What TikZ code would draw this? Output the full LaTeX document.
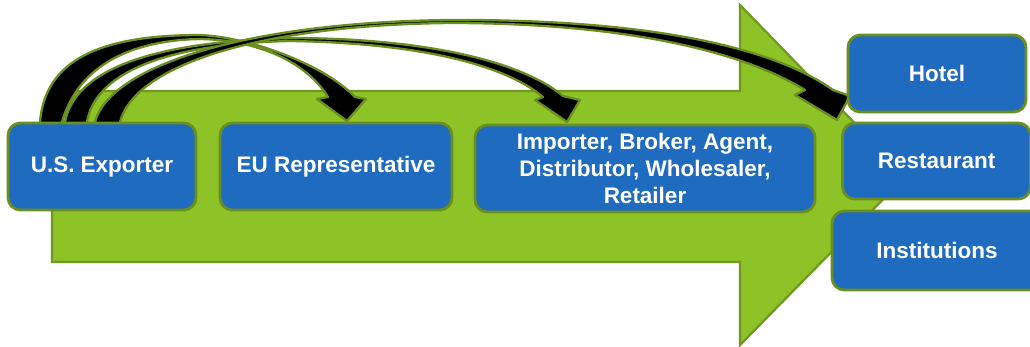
\documentclass[tikz,border=0pt]{standalone}
\usepackage{fontspec}
\setmainfont{Liberation Sans}
\usetikzlibrary{calc, backgrounds}
\definecolor{arrowgreen}{RGB}{141,195,38}
\definecolor{edgegreen}{RGB}{106,142,32}
\definecolor{boxblue}{RGB}{31,107,191}

\tikzset{
  stage/.style={draw=edgegreen, line width=1.6pt, fill=boxblue, rounded corners=7pt,
    text=white, font=\bfseries\fontsize{12.8}{15.4}\selectfont, align=center,
    inner sep=0pt, outer sep=0pt},
  flow/.style={fill=black, draw=edgegreen, line width=1.3pt, line join=round}
}

\begin{document}
\begin{tikzpicture}[x=0.02cm, y=-0.02cm]
    \useasboundingbox (0,0) rectangle (1030,346);

    % Boxes along the chain
    \node[stage, minimum width=3.76cm, minimum height=1.74cm] (exporter) at (102,166.5) {U.S. Exporter};
    \node[stage, minimum width=4.64cm, minimum height=1.74cm] (eurep) at (336,166.5) {EU Representative};
    \node[stage, minimum width=6.80cm, minimum height=1.74cm] (importer) at (645,168.5) {Importer, Broker, Agent,\\Distributor, Wholesaler,\\Retailer};

    % Boxes at the end of the chain
    \node[stage, minimum width=3.56cm, minimum height=1.54cm] (hotel) at (937,73.5) {Hotel};
    \node[stage, minimum width=3.76cm, minimum height=1.52cm] (restaurant) at (936.5,161) {Restaurant};
    \node[stage, minimum width=4.20cm, minimum height=1.58cm] (institutions) at (937,250.5) {Institutions};

    \begin{pgfonlayer}{background}
        % Big green arrow behind everything
        \draw[fill=arrowgreen, draw=edgegreen!80!arrowgreen, line width=1.3pt, line join=miter]
            (52,91) -- (740,91) -- (740,5) -- (906,176) -- (740,345) -- (740,262) -- (52,262) -- cycle;

        % Exporter -> EU representative
        \draw[flow] ($(exporter.north west)+(32,5)$) -- (40,122)
            .. controls (45,60) and (100,35) .. (200,35)
            .. controls (250,37) and (325,65) .. (355,97)
            -- (366,99) -- ($(eurep.north)+(11,-2)$) -- (317,99) -- (328,97)
            .. controls (305,60) and (255,40) .. (200,39)
            .. controls (140,40) and (80,60) .. (62,122)
            -- ($(exporter.north west)+(54,5)$) -- cycle;

        % Exporter -> importer, broker, ...
        \draw[flow] ($(exporter.north west)+(57,5)$) -- (65,122)
            .. controls (75,70) and (150,42) .. (290,38)
            .. controls (420,38) and (520,60) .. (563,96)
            -- (580,100) -- ($(importer.north west)+(92,-3)$) -- (535,100) -- (543,97)
            .. controls (505,65) and (420,43) .. (290,41)
            .. controls (160,44) and (95,75) .. (87,122)
            -- ($(exporter.north west)+(79,5)$) -- cycle;

        % Exporter -> hotel
        \draw[flow] ($(exporter.north west)+(87,5)$) -- (95,122)
            .. controls (110,65) and (250,22) .. (450,20)
            .. controls (640,19) and (770,45) .. (833,90)
            -- (850,96) -- ($(hotel.south west)+(-11,8)$) -- (795,95) -- (805,90)
            .. controls (740,50) and (620,23) .. (450,23)
            .. controls (260,25) and (135,65) .. (120,122)
            -- ($(exporter.north west)+(112,5)$) -- cycle;
    \end{pgfonlayer}

\end{tikzpicture}
\end{document}
